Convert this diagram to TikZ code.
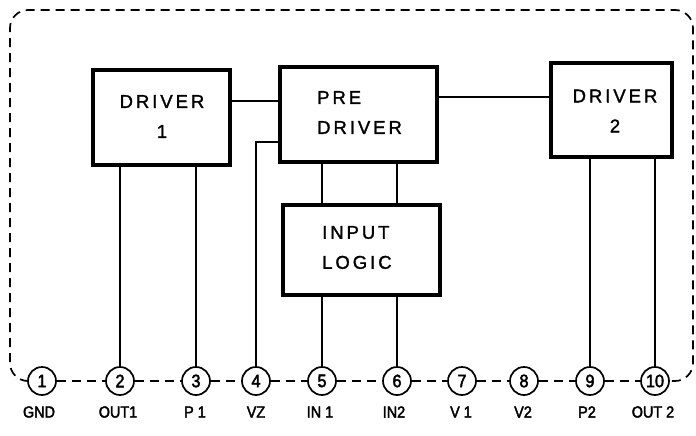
\documentclass[tikz,border=0pt]{standalone}
\usepackage{fontspec}
\setmainfont{Liberation Sans}
\newfontfamily\boxfont[LetterSpace=16, FakeBold=1.5]{Liberation Sans}
\newfontfamily\pinfont[FakeStretch=0.9, FakeBold=2.5]{Liberation Sans}
\begin{document}
\begin{tikzpicture}[x=1pt,y=-1pt,
  blk/.style={draw, line width=3.4pt, rectangle, inner sep=0pt},
  blktext/.style={font=\boxfont\fontsize{18.5}{30}\selectfont, inner sep=0pt},
  pin/.style={draw, circle, line width=1.7pt, minimum size=28pt, inner sep=0pt, font=\pinfont\fontsize{18}{18}\selectfont},
  pinlabel/.style={font=\pinfont\fontsize{16}{16}\selectfont, inner sep=0pt},
  wire/.style={line width=1.5pt},
  border/.style={line width=1.7pt, dash pattern=on 9pt off 6pt, rounded corners=18pt}]
\useasboundingbox (0,0) rectangle (696,436);

% blocks
\node[blk, minimum width=137pt, minimum height=95pt] (d1) at (161.5,117.5) {};
\node[blk, minimum width=157pt, minimum height=95pt] (pd) at (358.5,114.5) {};
\node[blk, minimum width=121pt, minimum height=94pt] (d2) at (611.5,110) {};
\node[blk, minimum width=157pt, minimum height=90pt] (il) at (361.5,250) {};

\node[blktext, align=center] (d1t) at (162,116.5) {DRIVER\\1};
\node[blktext, align=left, anchor=west] (pdt) at (317,112.5) {PRE\\DRIVER};
\node[blktext, align=center] (d2t) at (615,111) {DRIVER\\2};
\node[blktext, align=left, anchor=west] (ilt) at (322,247.5) {INPUT\\LOGIC};

% pins
\node[pin] (p1) at (42,381) {1};
\node[pin] (p2) at (120,381) {2};
\node[pin] (p3) at (196,381) {3};
\node[pin] (p4) at (256,381) {4};
\node[pin] (p5) at (322,381) {5};
\node[pin] (p6) at (397,381) {6};
\node[pin] (p7) at (462,381) {7};
\node[pin] (p8) at (524,381) {8};
\node[pin] (p9) at (590,381) {9};
\node[pin] (p10) at (655,381) {10};

\node[pinlabel] (l1) at (39,412) {GND};
\node[pinlabel] (l2) at (118,412) {OUT1};
\node[pinlabel] (l3) at (195,412) {P 1};
\node[pinlabel] (l4) at (256,412) {VZ};
\node[pinlabel] (l5) at (320,412) {IN 1};
\node[pinlabel] (l6) at (394,412) {IN2};
\node[pinlabel] (l7) at (461,412) {V 1};
\node[pinlabel] (l8) at (523,412) {V2};
\node[pinlabel] (l9) at (587,412) {P2};
\node[pinlabel] (l10) at (653,412) {OUT 2};

% helper coordinates
\coordinate (ya) at (0,101);
\coordinate (yb) at (0,97);
\coordinate (yc) at (0,142);

% wires between blocks
\draw[wire] (d1.east |- ya) -- (pd.west |- ya);
\draw[wire] (pd.east |- yb) -- (d2.west |- yb);
\draw[wire] (pd.south -| p5) -- (il.north -| p5);
\draw[wire] (pd.south -| p6) -- (il.north -| p6);

% wires to pins
\draw[wire] (p2.north) -- (p2.north |- d1.south);
\draw[wire] (p3.north) -- (p3.north |- d1.south);
\draw[wire] (p4.north) |- (pd.west |- yc);
\draw[wire] (p5.north) -- (p5.north |- il.south);
\draw[wire] (p6.north) -- (p6.north |- il.south);
\draw[wire] (p9.north) -- (p9.north |- d2.south);
\draw[wire] (p10.north) -- (p10.north |- d2.south);

% package outline
\draw[border] (p1.west) -- (10,381) -- (10,10) -- (693,10) -- (693,381) -- (p10.east);
\foreach \a/\b in {p1/p2,p2/p3,p3/p4,p4/p5,p5/p6,p6/p7,p7/p8,p8/p9,p9/p10}
  \draw[line width=1.7pt, dash pattern=on 9pt off 6pt] (\a.east) -- (\b.west);
\end{tikzpicture}
\end{document}
